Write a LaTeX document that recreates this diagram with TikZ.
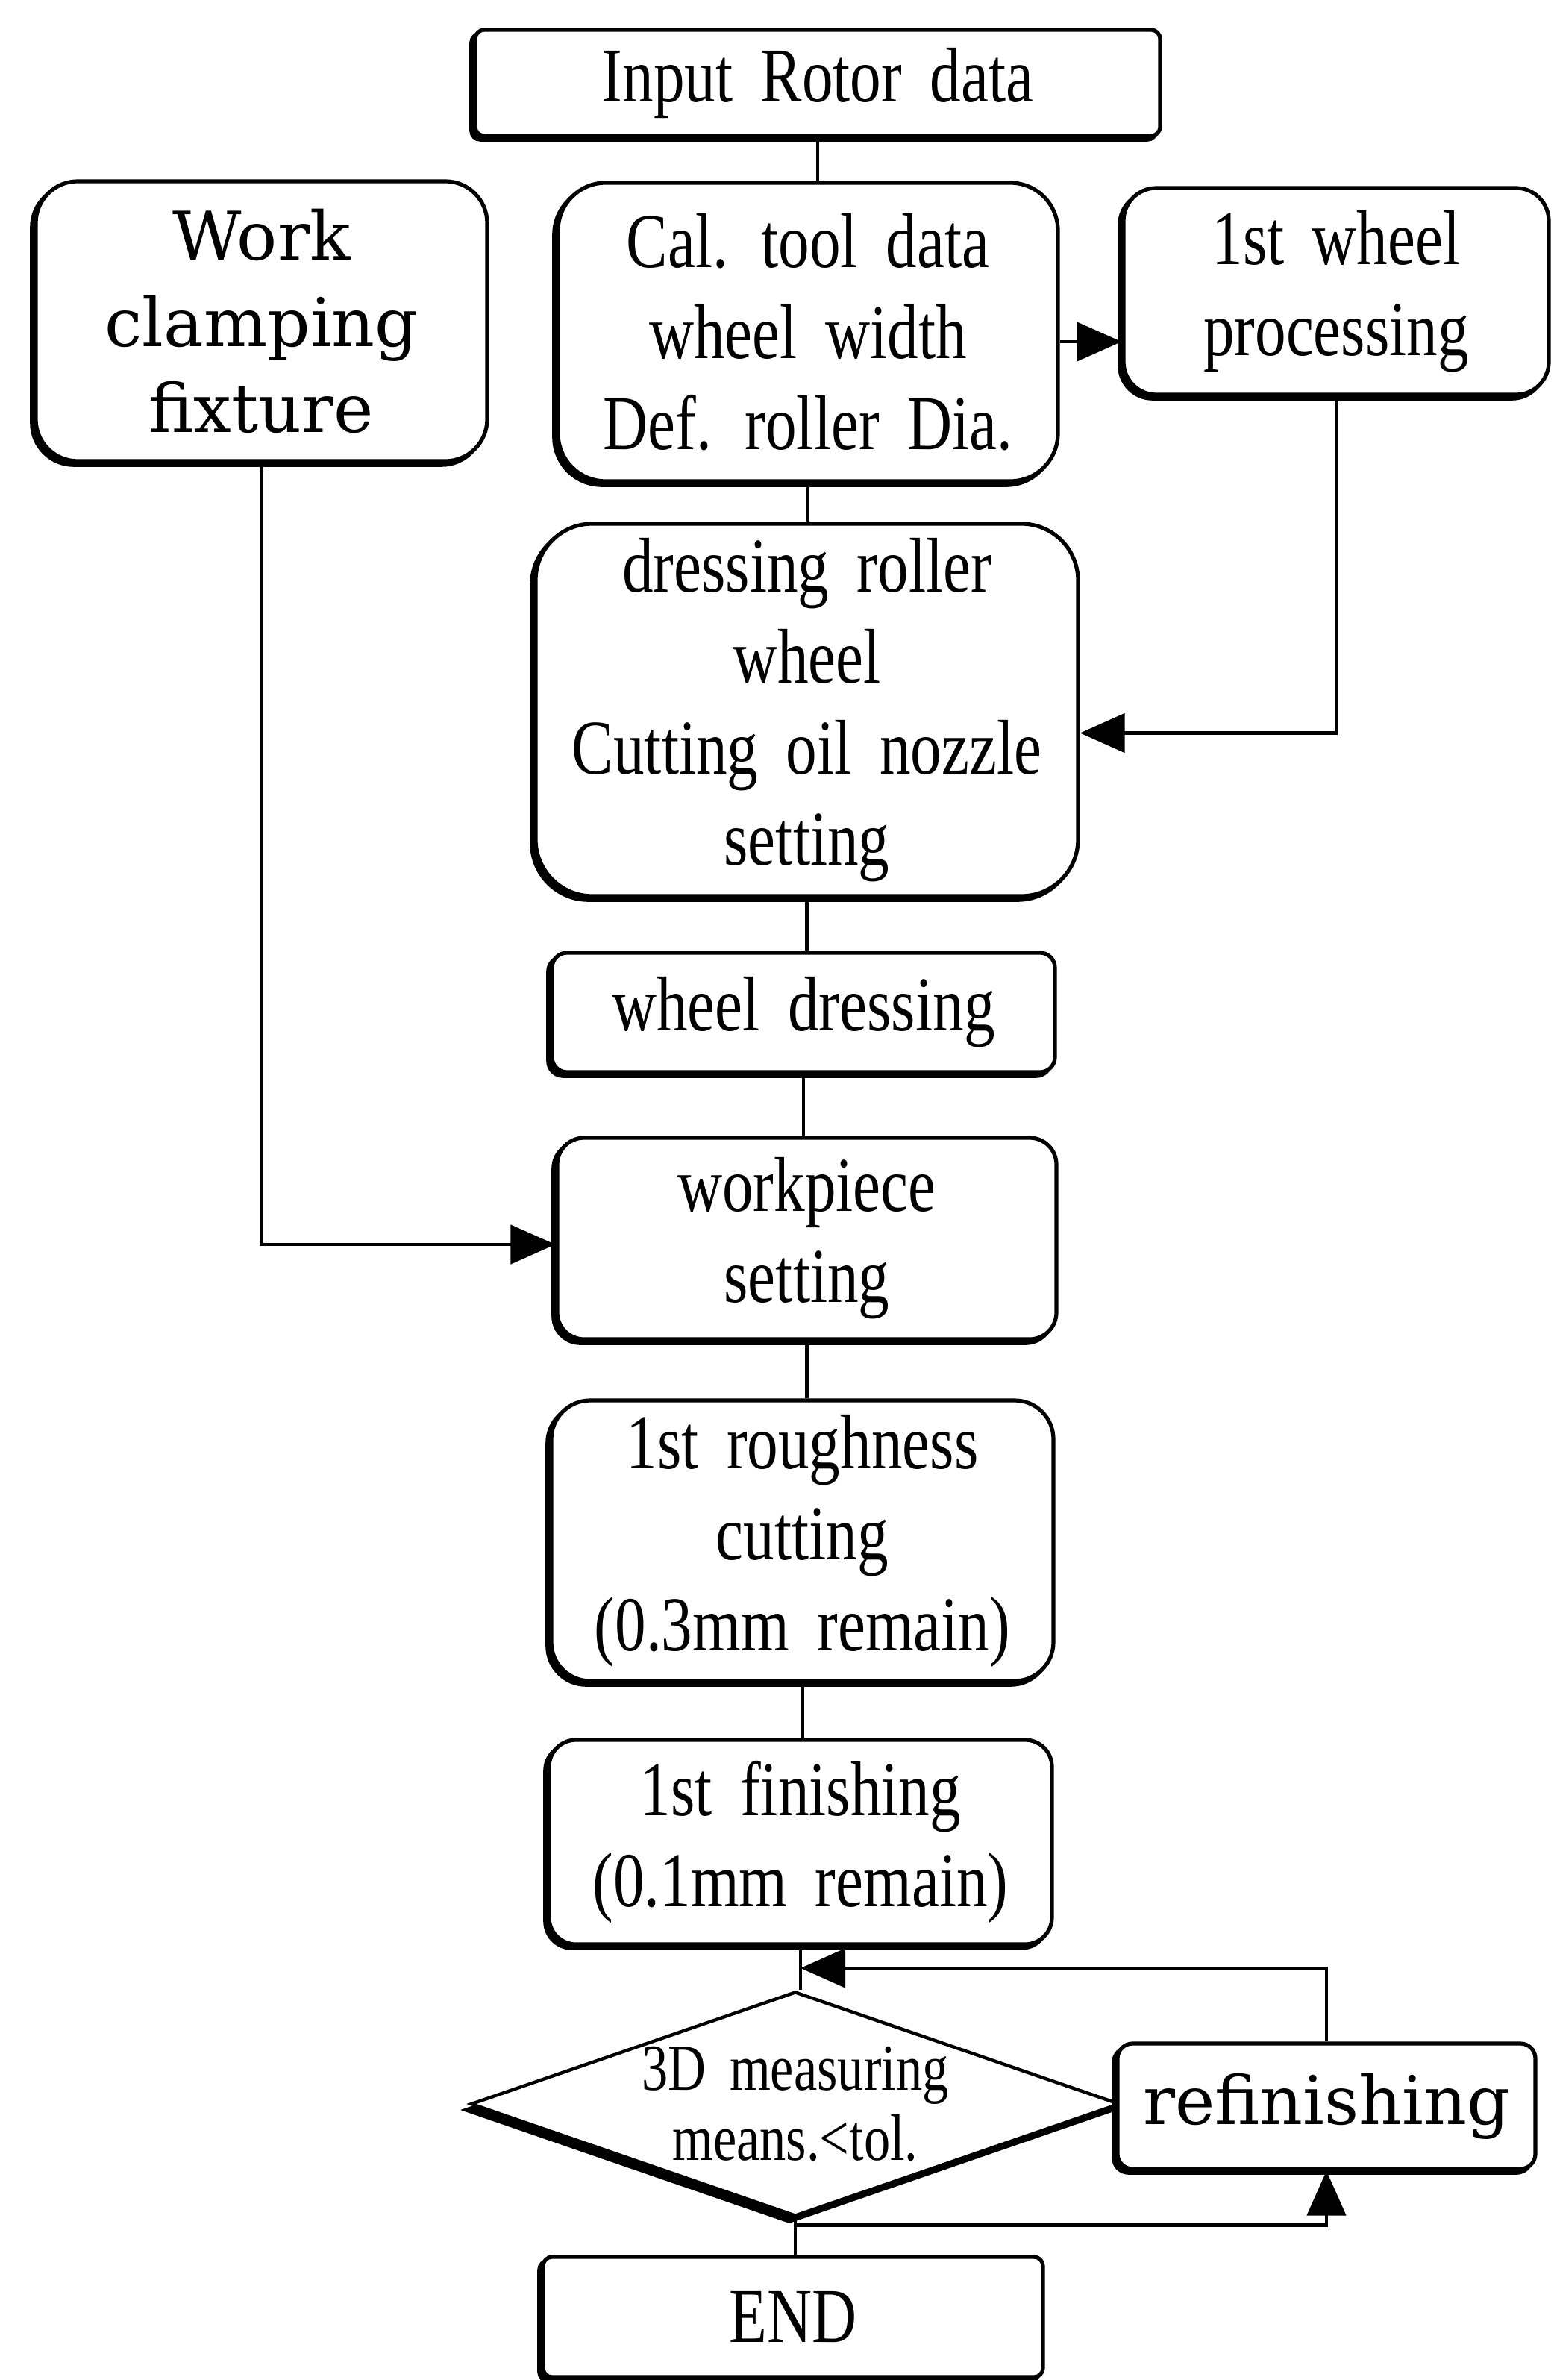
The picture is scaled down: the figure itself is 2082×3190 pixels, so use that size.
\documentclass[tikz,border=0pt]{standalone}
\usepackage{fontspec}
\setmainfont{Liberation Serif}[FakeStretch=0.8, WordSpace=1.8]
\newfontfamily\slabfont{DejaVu Serif}
\usetikzlibrary{shapes.geometric, arrows.meta, shadows, calc}
\begin{document}
\begin{tikzpicture}[x=0.25pt, y=-0.25pt,
  box/.style={draw, line width=1.3pt, fill=white, align=center, inner sep=0pt,
    general shadow={fill=black, draw=black, line width=1.3pt, shadow xshift=-1.3pt, shadow yshift=-1.3pt},
    font=\fontsize{26}{30.5}\selectfont},
  slab/.style={font=\slabfont\fontsize{22.5}{28.8}\selectfont},
  diabox/.style={diamond, draw, line width=1.1pt, fill=white, inner sep=0pt, aspect=2.9,
    general shadow={fill=black, draw=black, line width=1.1pt, shadow xshift=-2pt, shadow yshift=-2pt}},
  conn/.style={line width=1.2pt},
  arr/.style={line width=1.2pt, -{Triangle[length=15pt,width=13pt]}}]
\useasboundingbox (0,0) rectangle (2082,3190);

\node[box, rounded corners=3pt, minimum width=229.5pt, minimum height=35.5pt] (inp) at (1096,111) {Input Rotor data};
\node[box, slab, rounded corners=14pt, minimum width=151.25pt, minimum height=93.75pt] (work) at (350.5,430.5) {Work\\clamping\\fixture};
\node[box, rounded corners=16pt, minimum width=167.5pt, minimum height=100pt] (cal) at (1083,445) {Cal. tool data\\wheel width\\Def. roller Dia.};
\node[box, rounded corners=11pt, minimum width=142.5pt, minimum height=69.25pt] (wheel1) at (1791,390.5) {1st wheel\\processing};
\node[box, rounded corners=19pt, minimum width=181.75pt, minimum height=124.75pt] (dress) at (1081.5,951.5) {dressing roller\\wheel\\Cutting oil nozzle\\setting};
\node[box, rounded corners=5pt, minimum width=168.5pt, minimum height=40pt] (wdress) at (1077,1357) {wheel dressing};
\node[box, rounded corners=9pt, minimum width=167.25pt, minimum height=67.5pt] (wpiece) at (1081.5,1660) {workpiece\\setting};
\node[box, rounded corners=13pt, minimum width=168.25pt, minimum height=94pt] (rough) at (1075.5,2065) {1st roughness\\cutting\\(0.3mm remain)};
\node[box, rounded corners=9pt, minimum width=168.5pt, minimum height=68.5pt] (fin) at (1073,2469) {1st finishing\\(0.1mm remain)};
\node[diabox, minimum width=217.5pt, minimum height=75.25pt] (dia) at (1066,2820) {};
\node[align=center, inner sep=0pt, font=\fontsize{22}{23.5}\selectfont] (diatext) at (dia.center) {3D measuring\\means.<tol.};
\node[box, slab, rounded corners=5pt, minimum width=140pt, minimum height=42pt] (refin) at (1778,2823) {refinishing};
\node[box, rounded corners=3pt, minimum width=167.5pt, minimum height=40.25pt] (end) at (1063,3105.5) {END};

\draw[conn] (inp.south) -- (inp.south |- cal.north);
\draw[arr] ($(cal.east)+(0,13)$) -- ($(cal.east -| wheel1.west)+(0,13)$);
\draw[arr] (wheel1.south) |- ($(dress.east)+(0,31)$);
\draw[conn] (cal.south) -- (cal.south |- dress.north);
\draw[conn] (dress.south) -- (dress.south |- wdress.north);
\draw[conn] (wdress.south) -- (wdress.south |- wpiece.north);
\draw[arr] (work.south) |- ($(wpiece.west)+(0,8)$);
\draw[conn] (wpiece.south) -- (wpiece.south |- rough.north);
\draw[conn] (rough.south) -- (rough.south |- fin.north);
\draw[conn] (fin.south) -- (fin.south |- dia.north);
\coordinate (fb) at ($(fin.south)!0.5!(fin.south |- dia.north)$);
\draw[arr] (refin.north) |- (fb);
\draw[conn] (dia.south) -- (dia.south |- end.north);
\coordinate (fb2) at ($(dia.south)!0.2!(dia.south |- end.north)$);
\draw[arr] (fb2) -| (refin.south);
\end{tikzpicture}
\end{document}
